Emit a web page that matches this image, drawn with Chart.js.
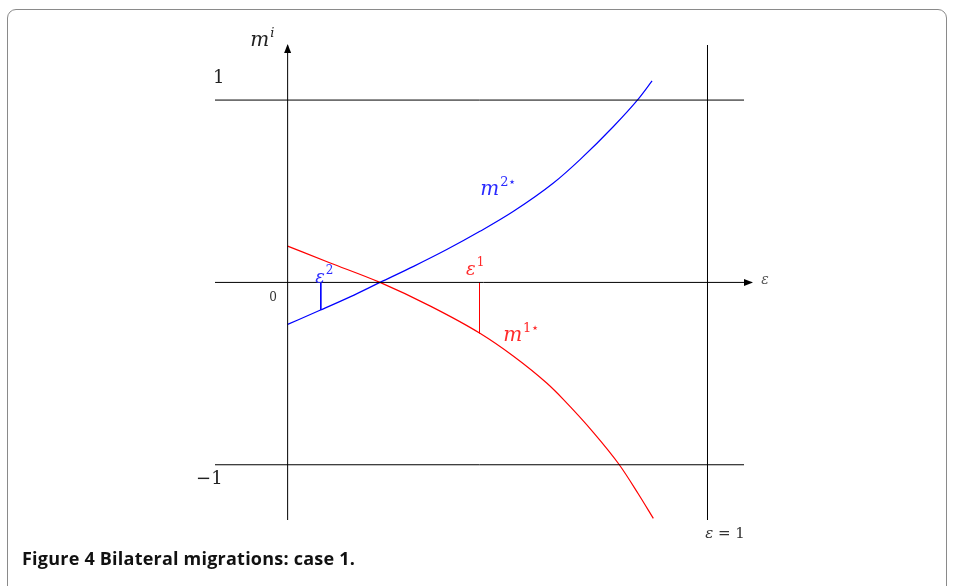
<!DOCTYPE html>
<html>
<head>
<meta charset="utf-8">
<script src="https://cdn.jsdelivr.net/npm/chart.js@4.4.0/dist/chart.umd.min.js"></script>
<style>
  html, body { margin: 0; padding: 0; background: #fff; }
  body { width: 953px; height: 586px; position: relative; overflow: hidden; }
  #frame {
    position: absolute; left: 7px; top: 9px; width: 940px; height: 620px;
    border: 1.5px solid #8a8a8a; border-radius: 9px; box-sizing: border-box;
  }
  #wrap { position: absolute; left: 0; top: 0; width: 953px; height: 586px; }
  #caption {
    position: absolute; left: 22px; top: 546px;
    font-family: "Open Sans", sans-serif; font-weight: bold; font-size: 18px;
    color: #111; letter-spacing: 0.22px; line-height: 1.36;
  }
</style>
</head>
<body>
<div id="frame"></div>
<div id="wrap"><canvas id="myChart"></canvas></div>
<div id="caption">Figure 4 Bilateral migrations: case 1.</div>

<script>
// curves (epsilon, m)
var blueEps = [0, 0.077, 0.15, 0.22, 0.30, 0.379, 0.458, 0.538, 0.633, 0.697, 0.776, 0.835, 0.868];
var blueM   = [-0.23, -0.153, -0.078, 0, 0.088, 0.18, 0.28, 0.39, 0.545, 0.675, 0.855, 1.005, 1.105];

var redEps = [0, 0.10, 0.22, 0.34, 0.458, 0.538, 0.617, 0.656, 0.728, 0.790, 0.835, 0.871];
var redM   = [0.199, 0.108, 0, -0.13, -0.279, -0.405, -0.552, -0.64, -0.822, -1.0, -1.159, -1.294];

// thresholds epsilon^2 (blue) and epsilon^1 (red)
var eps2 = 0.079, eps2M = -0.151;
var eps1 = 0.457, eps1M = -0.279;

var tickLabels = ['1', '0', '\u22121'];

function pts(xs, ys) {
    return xs.map(function (x, i) { return { x: x, y: ys[i] }; });
}

function seg(x1, y1, x2, y2, color) {
    return {
        data: [{ x: x1, y: y1 }, { x: x2, y: y2 }],
        borderColor: color, borderWidth: 1, pointRadius: 0, tension: 0
    };
}

/*--------------- labels + arrows ---------------*/
var serif = '"DejaVu Serif", "Liberation Serif", serif';

var labels = [
    { t: 'm', sup: 'i', x: -0.089, y: 1.297, c: '#222', s: 20 },
    { t: tickLabels[0], x: -0.1775, y: 1.094, c: '#222', s: 18, upright: true },
    { t: tickLabels[1], x: -0.044, y: -0.103, c: '#333', s: 12, upright: true },
    { t: tickLabels[2], x: -0.218, y: -1.108, c: '#222', s: 18, upright: true },
    { t: '\u03b5', x: 1.128, y: -0.007, c: '#555', s: 14 },
    { t: '\u03b5 = 1', x: 0.9945, y: -1.404, c: '#333', s: 15, mixed: true },
    { t: '\u03b5', sup: '2', x: 0.0655, y: -0.002, c: '#2a2aff', s: 18 },
    { t: '\u03b5', sup: '1', x: 0.425, y: 0.042, c: '#ff2a2a', s: 18 },
    { t: 'm', sup: '2\u22c6', x: 0.4586, y: 0.479, c: '#2a2aff', s: 20 },
    { t: 'm', sup: '1\u22c6', x: 0.5133, y: -0.322, c: '#ff2a2a', s: 20 }
];

var annotate = {
    id: 'annotate',
    afterDatasetsDraw: function (chart) {
        var c = chart.ctx, xs = chart.scales.x, ys = chart.scales.y;
        c.save();

        // arrow heads
        c.fillStyle = '#000';
        var ax = xs.getPixelForValue(0), ay = ys.getPixelForValue(ys.max);
        c.beginPath();
        c.moveTo(ax, ay - 1); c.lineTo(ax - 3.5, ay + 8); c.lineTo(ax + 3.5, ay + 8); c.closePath(); c.fill();
        var bx = xs.getPixelForValue(xs.max), by = ys.getPixelForValue(0);
        c.beginPath();
        c.moveTo(bx + 1, by); c.lineTo(bx - 8, by - 3.5); c.lineTo(bx - 8, by + 3.5); c.closePath(); c.fill();

        c.textBaseline = 'alphabetic';
        c.textAlign = 'left';
        labels.forEach(function (l) {
            var px = xs.getPixelForValue(l.x), py = ys.getPixelForValue(l.y);
            c.fillStyle = l.c;
            if (l.mixed) {
                c.font = 'italic ' + l.s + 'px ' + serif;
                c.fillText('\u03b5', px, py);
                var w0 = c.measureText('\u03b5').width;
                c.font = l.s + 'px ' + serif;
                c.fillText(' = 1', px + w0, py);
                return;
            }
            c.font = (l.upright ? '' : 'italic ') + l.s + 'px ' + serif;
            c.fillText(l.t, px, py);
            if (l.sup) {
                var w = c.measureText(l.t).width;
                var ss = Math.round(l.s * 0.65);
                c.font = (l.sup === 'i' ? 'italic ' : '') + ss + 'px ' + serif;
                c.fillText(l.sup, px + w + 1, py - l.s * 0.47);
            }
        });
        c.restore();
    }
};

var ctx = document.getElementById('myChart').getContext('2d');

new Chart(ctx, {
    type: 'line',
    data: {
        datasets: [
            // frame lines
            seg(-0.173, 0, 1.106, 0, '#000'),
            seg(0, -1.303, 0, 1.30, '#000'),
            seg(-0.173, 1, 1.087, 1, '#000'),
            seg(-0.173, -1, 1.087, -1, '#000'),
            seg(1, -1.303, 1, 1.303, '#000'),
            // threshold drops
            seg(eps2, 0, eps2, eps2M, '#0000ff'),
            seg(eps1, 0, eps1, eps1M, '#ff0000'),
            {
                label: 'm2*',
                data: pts(blueEps, blueM),
                borderColor: '#0000ff', borderWidth: 1.2, pointRadius: 0,
                cubicInterpolationMode: 'monotone'
            },
            {
                label: 'm1*',
                data: pts(redEps, redM),
                borderColor: '#ff0000', borderWidth: 1.2, pointRadius: 0,
                cubicInterpolationMode: 'monotone'
            }
        ]
    },
    options: {
        responsive: true,
        maintainAspectRatio: false,
        animation: false,
        layout: { padding: { left: 215, right: 201, top: 45, bottom: 66 } },
        scales: {
            x: { type: 'linear', min: -0.173, max: 1.106, display: false },
            y: { type: 'linear', min: -1.303, max: 1.302, display: false }
        },
        plugins: {
            legend: { display: false },
            tooltip: { enabled: false }
        }
    },
    plugins: [annotate]
});
</script>
</body>
</html>
